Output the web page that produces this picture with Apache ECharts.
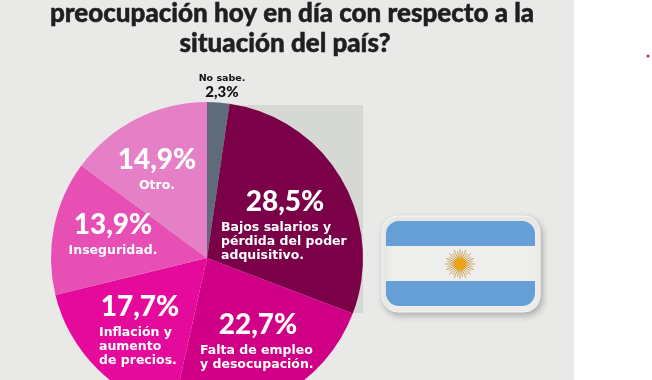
<!DOCTYPE html>
<html>
<head>
<meta charset="utf-8">
<style>
  html, body { margin: 0; padding: 0; background: #fff; }
  #chart { width: 652px; height: 380px; }
</style>
<script src="https://cdn.jsdelivr.net/npm/echarts@6/dist/echarts.min.js"></script>
</head>
<body>
<div id="chart"></div>
<script>
const categories = ['No sabe.', 'Bajos salarios y\npérdida del poder\nadquisitivo.', 'Falta de empleo\ny desocupación.', 'Inflación y\naumento\nde precios.', 'Inseguridad.', 'Otro.'];
const values = [2.3, 28.5, 22.7, 17.7, 13.9, 14.9];
const percentLabels = ['2,3%', '28,5%', '22,7%', '17,7%', '13,9%', '14,9%'];
const sliceColors = ['#5f6a7a', '#7a0048', '#cf0085', '#e60a9c', '#e84fb4', '#e680c6'];
const titleLines = ['preocupación hoy en día con respecto a la', 'situación del país?'];

// where each label block goes, tuned by eye against the picture
const labelSpots = [[222, 86], [285, 223], [258, 339], [140, 328], [113, 232], [157, 167]];
const labelWidths = [60, 128, 116, 82, 100, 60];

const FONT = 'Lato';
const SMALL_FONT = 'DejaVu Sans';
const chart = echarts.init(document.getElementById('chart'));

const makeLabel = (i) => {
  if (i === 0) return `{d|${categories[0]}}\n{dp|${percentLabels[0]}}`;
  const lines = categories[i].split('\n').map((l) => `{t${i}|${l}}`);
  return [`{p|${percentLabels[i]}}`, ...lines].join('\n');
};

const rich = {
  p: { fontFamily: FONT, fontWeight: 900, fontSize: 28, color: '#fff', lineHeight: 38, align: 'center' },
  d: { fontFamily: SMALL_FONT, fontWeight: 'bold', fontSize: 9.5, color: '#111', lineHeight: 12, align: 'center' },
  dp: { fontFamily: FONT, fontWeight: 900, fontSize: 15, color: '#111', lineHeight: 15, align: 'center' },
};
categories.forEach((c, i) => {
  rich['t' + i] = {
    fontFamily: SMALL_FONT, fontWeight: 'bold', fontSize: 12.5, color: '#fff', lineHeight: 14,
    width: labelWidths[i], align: i === 4 || i === 5 ? 'center' : 'left',
  };
});

// sun rays for the flag
const sunRays = [];
for (let a = 0; a < 32; a++) {
  const ang = (a / 32) * Math.PI * 2;
  const r2 = a % 2 ? 13 : 15;
  sunRays.push({
    type: 'line',
    shape: { x1: 460 + Math.cos(ang) * 6, y1: 264 + Math.sin(ang) * 6, x2: 460 + Math.cos(ang) * r2, y2: 264 + Math.sin(ang) * r2 },
    style: { stroke: '#bf7f1c', lineWidth: 0.7 },
    z: 3,
  });
}

chart.setOption({
  animation: false,
  backgroundColor: '#fff',
  graphic: [
    { type: 'rect', shape: { x: 0, y: 0, width: 574, height: 380 }, style: { fill: '#e9eae7' }, z: -10 },
    { type: 'rect', shape: { x: 207, y: 105, width: 156, height: 208 }, style: { fill: '#d6d8d3' }, z: -9 },
    { type: 'text', x: 292, y: 14, style: { text: titleLines[0], fontFamily: FONT, fontWeight: 900, fontSize: 26, fill: '#1f1f1f', stroke: '#1f1f1f', lineWidth: 0.5, align: 'center', verticalAlign: 'middle' } },
    { type: 'text', x: 285, y: 44, style: { text: titleLines[1], fontFamily: FONT, fontWeight: 900, fontSize: 26, fill: '#1f1f1f', stroke: '#1f1f1f', lineWidth: 0.5, align: 'center', verticalAlign: 'middle' } },
    { type: 'circle', shape: { cx: 648, cy: 56, r: 1.5 }, style: { fill: '#b5303a' } },
    // flag
    {
      type: 'rect', shape: { x: 382, y: 216, width: 158, height: 96, r: 16 },
      style: { fill: '#eeeeec', stroke: '#f6f7f7', lineWidth: 1, shadowBlur: 6, shadowColor: 'rgba(70,70,70,0.35)', shadowOffsetX: 2, shadowOffsetY: 3 },
      z: 1,
    },
    { type: 'rect', shape: { x: 386, y: 221, width: 149, height: 25, r: [13, 13, 0, 0] }, style: { fill: '#659fd6' }, z: 2 },
    { type: 'rect', shape: { x: 386, y: 281, width: 149, height: 25, r: [0, 0, 13, 13] }, style: { fill: '#659fd6' }, z: 2 },
    ...sunRays,
    { type: 'circle', shape: { cx: 460, cy: 264, r: 6.5 }, style: { fill: '#eba41c' }, z: 4 },
  ],
  series: [
    {
      type: 'pie',
      center: [207, 258],
      radius: [0, 156],
      startAngle: 90,
      clockwise: true,
      silent: true,
      data: values.map((v, i) => ({ value: v, name: categories[i], itemStyle: { color: sliceColors[i] } })),
      label: {
        show: true,
        position: 'inside',
        formatter: (p) => makeLabel(p.dataIndex),
        rich,
      },
      labelLine: { show: false },
      labelLayout: (p) => ({ x: labelSpots[p.dataIndex][0], y: labelSpots[p.dataIndex][1], align: 'center', verticalAlign: 'middle' }),
    },
  ],
});
</script>
</body>
</html>
